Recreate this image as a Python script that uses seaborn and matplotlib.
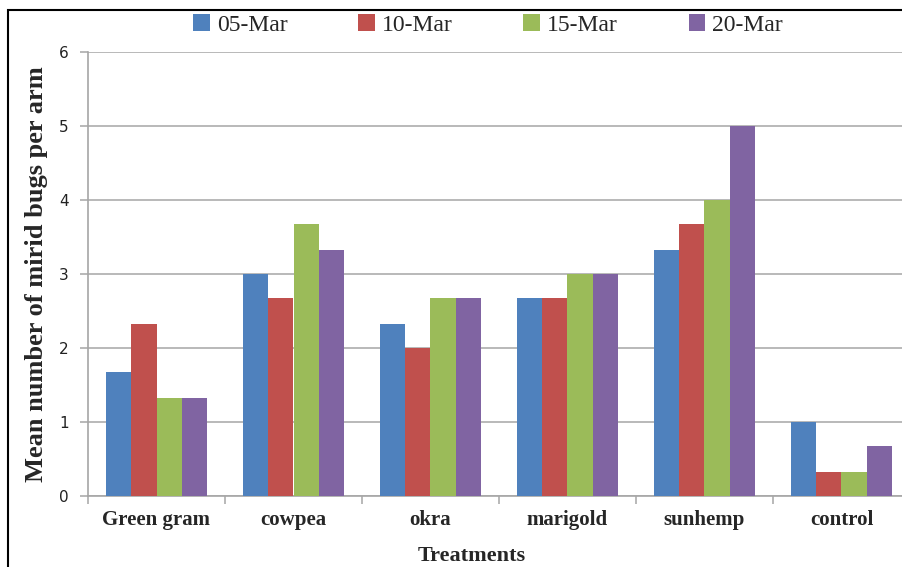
import matplotlib
matplotlib.use('Agg')
import matplotlib.pyplot as plt
from matplotlib.patches import Rectangle
from matplotlib.ticker import FixedLocator
import seaborn as sns
import pandas as pd

# data
treatments = ['Green gram', 'cowpea', 'okra', 'marigold', 'sunhemp', 'control']
dates = ['05-Mar', '10-Mar', '15-Mar', '20-Mar']
mar05 = [1.67, 3.00, 2.33, 2.67, 3.33, 1.00]
mar10 = [2.33, 2.67, 2.00, 2.67, 3.67, 0.33]
mar15 = [1.33, 3.67, 2.67, 3.00, 4.00, 0.33]
mar20 = [1.33, 3.33, 2.67, 3.00, 5.00, 0.67]
colors = ['#4F81BD', '#C0504D', '#9BBB59', '#8064A2']

rows = []
for d, vals in zip(dates, [mar05, mar10, mar15, mar20]):
    for t, v in zip(treatments, vals):
        rows.append({'Treatment': t, 'Date': d, 'Value': v})
df = pd.DataFrame(rows)

sns.set_style('white')
serif = ['Liberation Serif', 'DejaVu Serif']

fig = plt.figure(figsize=(9.03, 5.67), dpi=100)
ax = fig.add_axes([88 / 903, 71 / 567, 822 / 903, 444 / 567])

sns.barplot(data=df, x='Treatment', y='Value', hue='Date', order=treatments,
            hue_order=dates, palette=colors, width=0.73, saturation=1,
            edgecolor='none', linewidth=0, errorbar=None, ax=ax, zorder=3)

ax.set_xlim(-0.5, 5.5)
ax.set_ylim(0, 6)
ax.set_yticks(range(7))
ax.yaxis.grid(True, color='#A6A6A6', linewidth=1.1, zorder=0)
ax.set_axisbelow(True)

for side in ['top', 'right']:
    ax.spines[side].set_visible(False)
for side in ['left', 'bottom']:
    ax.spines[side].set_color('#A6A6A6')
    ax.spines[side].set_linewidth(1.2)

ax.tick_params(axis='y', which='major', length=6, color='#A6A6A6', width=1.1,
               pad=8, labelsize=11, labelcolor='#222222', left=True)
ax.tick_params(axis='x', which='major', length=0, pad=10)
ax.xaxis.set_minor_locator(FixedLocator([i - 0.5 for i in range(7)]))
ax.tick_params(axis='x', which='minor', length=6, color='#A6A6A6', width=1.1,
               bottom=True)
for lab in ax.get_xticklabels():
    lab.set_family(serif)
    lab.set_fontweight('bold')
    lab.set_fontsize(15)

ax.set_xlabel('Treatments', fontsize=16, fontweight='bold', family=serif,
              va='center')
ax.xaxis.set_label_coords((472 - 88) / 822, -(556 - 496) / 444)
ax.set_ylabel('Mean number of mirid bugs per arm', fontsize=19, fontweight='bold',
              family=serif, labelpad=8)

handles, labels = ax.get_legend_handles_labels()
leg = ax.legend(handles, labels, loc='center', bbox_to_anchor=(488 / 903, 1 - 25 / 567),
                bbox_transform=fig.transFigure, ncol=4, frameon=False,
                prop={'family': serif, 'size': 17}, handlelength=0.7,
                handleheight=0.7, handletextpad=0.3, columnspacing=3.0)

# outer chart border (cropped at right and bottom)
fig.patches.append(Rectangle((8 / 903, -0.1), 1.2, (557 / 567) + 0.1,
                             transform=fig.transFigure, fill=False,
                             edgecolor='black', linewidth=1.5, clip_on=False))

fig.savefig('out.png', dpi=100)
